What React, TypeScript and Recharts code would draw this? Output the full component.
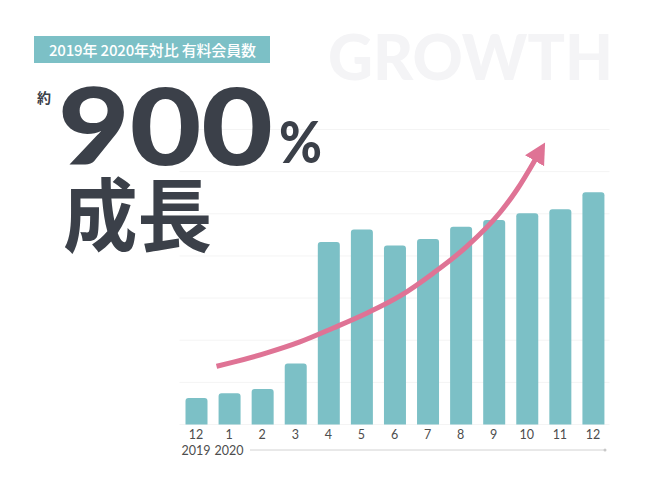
import * as React from 'react';
import { ComposedChart, Bar, Line, XAxis, YAxis, CartesianGrid } from 'recharts';

// paid members, Dec 2019 .. Dec 2020 (relative scale)
const months = ['12', '1', '2', '3', '4', '5', '6', '7', '8', '9', '10', '11', '12'];
const years = ['2019', '2020', '', '', '', '', '', '', '', '', '', '', ''];
const members = [63, 74, 84, 145, 433, 463, 425, 440, 469, 485, 501, 511, 551];
const yTicks = [0, 100, 200, 300, 400, 500, 600, 700];

// growth arrow, x in month slots, y on the member scale
const arrowPos = [0.62, 1.13, 2.14, 3.14, 4.15, 5.16, 6.17, 7.17, 8.18, 9.19, 9.7, 10.28];
const arrowVal = [138, 148, 170, 196, 229, 264, 305, 359, 422, 503, 557, 632];

const TEAL = '#7cc0c6';
const PINK = '#df7395';
const DARK = '#3b4049';

const barData = months.map((m, i) => ({ key: `${years[i] || 'y'}-${i}`, members: members[i] }));
const arrowData = arrowPos.map((p, i) => ({ pos: p, arrow: arrowVal[i] }));

function MonthTick(props: any) {
  const { x, y, payload } = props;
  const i = payload.index;
  return (
    <g>
      <text x={x} y={y + 14.5} textAnchor="middle" fontSize={12.5} fill="#4d4d4d" fontFamily="Lato, 'Open Sans', sans-serif">
        {months[i]}
      </text>
      {years[i] && (
        <text x={x} y={y + 30} textAnchor="middle" fontSize={12.5} fill="#4d4d4d" fontFamily="Lato, 'Open Sans', sans-serif">
          {years[i]}
        </text>
      )}
    </g>
  );
}

export default function App() {
  return (
    <div style={{ position: 'absolute', left: 0, top: 0, width: 650, height: 488, background: '#fff' }}>
      <svg width={650} height={488} style={{ position: 'absolute', left: 0, top: 0 }}>
        <defs>
          <marker id="growthHead" markerUnits="userSpaceOnUse" markerWidth={26} markerHeight={26} refX={3} refY={11} orient="auto">
            <path d="M0,0 L21,11 L0,22 Z" fill={PINK} />
          </marker>
        </defs>
        <text x={328} y={80} fontSize={62} fontWeight={900} fill="#f4f4f6" fontFamily="Lato, Inter, sans-serif" textLength={285} lengthAdjust="spacingAndGlyphs">
          GROWTH
        </text>
      </svg>
      <div style={{ position: 'absolute', left: 0, top: 0 }}>
        <ComposedChart width={650} height={488} data={barData} margin={{ top: 129.5, right: 40.5, bottom: 23.5, left: 179.5 }}>
          <CartesianGrid vertical={false} stroke="#f4f4f4" />
          <YAxis hide domain={[0, 700]} ticks={yTicks} />
          <XAxis dataKey="key" axisLine={false} tickLine={false} tickSize={0} tickMargin={0} height={40} interval={0} tick={<MonthTick />} />
          <XAxis xAxisId="arrow" dataKey="pos" type="number" domain={[-0.5, 12.5]} allowDataOverflow hide />
          <Bar dataKey="members" fill={TEAL} barSize={22} radius={[3, 3, 0, 0]} isAnimationActive={false} />
          <Line
            xAxisId="arrow"
            data={arrowData}
            dataKey="arrow"
            type="monotone"
            stroke={PINK}
            strokeWidth={5}
            dot={false}
            activeDot={false}
            markerEnd="url(#growthHead)"
            isAnimationActive={false}
          />
        </ComposedChart>
      </div>
      <svg width={650} height={488} style={{ position: 'absolute', left: 0, top: 0, pointerEvents: 'none' }}>
        <rect x={34} y={36} width={236} height={27} fill={TEAL} />
        <text x={49} y={55.5} fontSize={15} fill="#fff" fontWeight={500} fontFamily="'Noto Sans CJK JP', sans-serif" textLength={207} lengthAdjust="spacing">
          2019年 2020年対比 有料会員数
        </text>
        <text x={37} y={103} fontSize={14} fontWeight={700} fill={DARK} fontFamily="'Noto Sans CJK JP', sans-serif">
          約
        </text>
        <text x={58} y={165} fontSize={106} fontWeight={900} fill={DARK} fontFamily="Lato, Inter, sans-serif" textLength={215} lengthAdjust="spacingAndGlyphs">
          900
        </text>
        <text x={279} y={163} fontSize={57} fontWeight={900} fill={DARK} fontFamily="Lato, Inter, sans-serif" textLength={43} lengthAdjust="spacingAndGlyphs">
          %
        </text>
        <text x={63} y={245} fontSize={80} fontWeight={700} fill={DARK} fontFamily="'Noto Sans CJK JP', sans-serif" textLength={149} lengthAdjust="spacingAndGlyphs">
          成長
        </text>
        <line x1={250} y1={450} x2={604} y2={450} stroke="#d2d2d2" strokeWidth={1} />
        <circle cx={605} cy={450} r={1.5} fill="#c8c8c8" />
      </svg>
    </div>
  );
}
